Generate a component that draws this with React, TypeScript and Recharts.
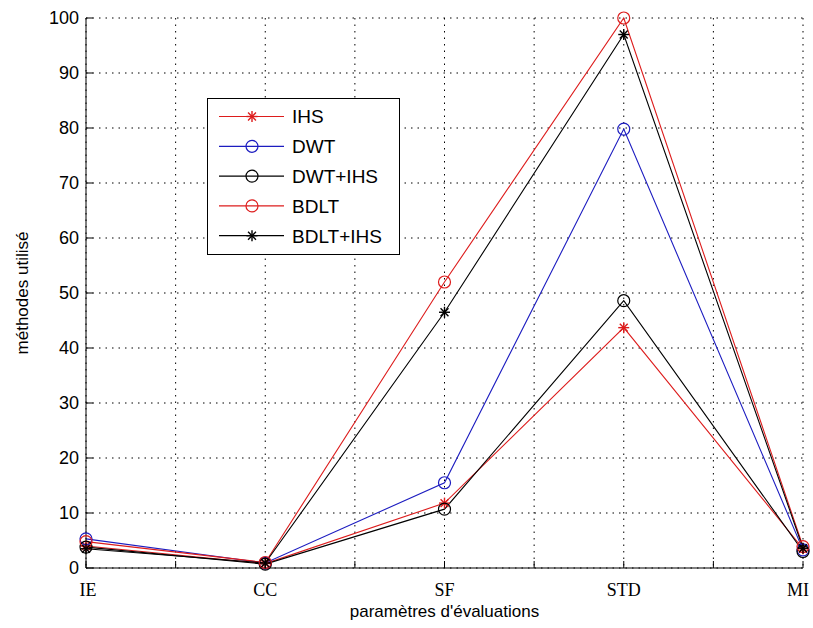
import React from 'react';
import {
  LineChart,
  Line,
  XAxis,
  YAxis,
  CartesianGrid,
  Label,
} from 'recharts';

// categories sit at positions 1..5, grid also at half steps (MATLAB style)
const categories = ['IE', 'CC', 'SF', 'STD', 'MI'];
const xPositions = [1, 2, 3, 4, 5];
const xTicks = [1, 1.5, 2, 2.5, 3, 3.5, 4, 4.5, 5];
const yTicks = [0, 10, 20, 30, 40, 50, 60, 70, 80, 90, 100];

const ihs = [4.0, 0.8, 11.8, 43.7, 3.5];
const dwt = [5.3, 0.9, 15.5, 79.8, 3.3];
const dwtIhs = [3.8, 0.7, 10.7, 48.6, 3.0];
const bdlt = [4.8, 1.0, 52.0, 100.0, 3.9];
const bdltIhs = [3.5, 0.9, 46.5, 97.0, 3.6];

const RED = '#dd1c1c';
const BLUE = '#1c1cc0';
const BLACK = '#000000';

type MarkerKind = 'star' | 'circle';

const series: { key: string; color: string; marker: MarkerKind }[] = [
  { key: 'IHS', color: RED, marker: 'star' },
  { key: 'DWT', color: BLUE, marker: 'circle' },
  { key: 'DWT+IHS', color: BLACK, marker: 'circle' },
  { key: 'BDLT', color: RED, marker: 'circle' },
  { key: 'BDLT+IHS', color: BLACK, marker: 'star' },
];

const data = categories.map((name, i) => ({
  pos: xPositions[i],
  name,
  IHS: ihs[i],
  DWT: dwt[i],
  'DWT+IHS': dwtIhs[i],
  BDLT: bdlt[i],
  'BDLT+IHS': bdltIhs[i],
}));

const sans = '"Liberation Sans", Arial, sans-serif';
const serif = '"Liberation Serif", "Times New Roman", serif';
const TICK = 7;

const Marker = ({ cx, cy, kind, color }: { cx: number; cy: number; kind: MarkerKind; color: string }) => {
  if (kind === 'circle') {
    return <circle cx={cx} cy={cy} r={6} fill="none" stroke={color} strokeWidth={1.2} />;
  }
  const s = 5.5;
  const d = s * 0.72;
  return (
    <g stroke={color} strokeWidth={1.4}>
      <line x1={cx - s} y1={cy} x2={cx + s} y2={cy} />
      <line x1={cx} y1={cy - s} x2={cx} y2={cy + s} />
      <line x1={cx - d} y1={cy - d} x2={cx + d} y2={cy + d} />
      <line x1={cx - d} y1={cy + d} x2={cx + d} y2={cy - d} />
    </g>
  );
};

const BottomTick = (props: any) => {
  const { x, y, payload } = props;
  const idx = xPositions.indexOf(payload.value);
  // last label is nudged in so it stays inside the picture
  const shift = idx === categories.length - 1 ? -5 : idx === 0 ? 2 : 0;
  return (
    <g>
      <line x1={x} y1={y} x2={x} y2={y - TICK} stroke="#000" />
      {idx >= 0 && (
        <text x={x + shift} y={y + 22} dy="0.35em" textAnchor="middle" fontFamily={serif} fontSize={18} fill="#000">
          {categories[idx]}
        </text>
      )}
    </g>
  );
};

const TopTick = (props: any) => {
  const { x, y } = props;
  return <line x1={x} y1={y} x2={x} y2={y + TICK} stroke="#000" />;
};

const LeftTick = (props: any) => {
  const { x, y, payload } = props;
  return (
    <g>
      <line x1={x} y1={y} x2={x + TICK} y2={y} stroke="#000" />
      <text x={x - 7} y={y} dy="0.35em" textAnchor="end" fontFamily={sans} fontSize={18} fill="#000">
        {payload.value}
      </text>
    </g>
  );
};

const RightTick = (props: any) => {
  const { x, y } = props;
  return <line x1={x} y1={y} x2={x - TICK} y2={y} stroke="#000" />;
};

const LegendBox = () => (
  <svg width={193} height={157} style={{ display: 'block' }}>
    <rect x={0.5} y={0.5} width={192} height={156} fill="#fff" stroke="#000" />
    {series.map((s, i) => {
      const cy = 18.5 + i * 29.8;
      return (
        <g key={s.key}>
          <line x1={12} y1={cy} x2={77} y2={cy} stroke={s.color} strokeWidth={1.2} />
          <Marker cx={45} cy={cy} kind={s.marker} color={s.color} />
          <text x={85} y={cy} dy="0.36em" fontFamily={sans} fontSize={19} fill="#000">
            {s.key}
          </text>
        </g>
      );
    })}
  </svg>
);

export default function App() {
  return (
    <div style={{ width: 813, height: 628, background: '#fff', position: 'relative' }}>
      <style>{'body{margin:0}'}</style>
      <LineChart
        width={813}
        height={628}
        data={data}
        margin={{ top: 18, right: 10, bottom: 0, left: 26 }}
      >
        <CartesianGrid
          stroke="#000"
          strokeDasharray="1.5 5"
          fill="none"
        />
        <XAxis
          dataKey="pos"
          type="number"
          domain={[1, 5]}
          ticks={xTicks}
          height={60}
          tickSize={0}
          tickMargin={0}
          tick={<BottomTick />}
          axisLine={{ stroke: '#000' }}
          tickLine={false}
          interval={0}
        >
          <Label
            value="paramètres d'évaluations"
            position="insideBottom"
            offset={11}
            style={{ fontFamily: sans, fontSize: 17, fill: '#000' }}
          />
        </XAxis>
        <XAxis
          xAxisId="top"
          orientation="top"
          dataKey="pos"
          type="number"
          domain={[1, 5]}
          ticks={xTicks}
          height={0}
          tickSize={0}
          tickMargin={0}
          tick={<TopTick />}
          axisLine={{ stroke: '#000' }}
          tickLine={false}
          interval={0}
        />
        <YAxis
          type="number"
          domain={[0, 100]}
          ticks={yTicks}
          width={60}
          tickSize={0}
          tickMargin={0}
          tick={<LeftTick />}
          axisLine={{ stroke: '#000' }}
          tickLine={false}
          interval={0}
        >
          <Label
            content={() => (
              <text
                transform="translate(22,293) rotate(-90)"
                textAnchor="middle"
                dy="0.35em"
                fontFamily={sans}
                fontSize={17}
                fill="#000"
              >
                méthodes utilisé
              </text>
            )}
          />
        </YAxis>
        <YAxis
          yAxisId="right"
          orientation="right"
          type="number"
          domain={[0, 100]}
          ticks={yTicks}
          width={0}
          tickSize={0}
          tickMargin={0}
          tick={<RightTick />}
          axisLine={{ stroke: '#000' }}
          tickLine={false}
          interval={0}
        />
        {series.map((s) => (
          <Line
            key={s.key}
            type="linear"
            dataKey={s.key}
            stroke={s.color}
            strokeWidth={1.1}
            isAnimationActive={false}
            activeDot={false}
            dot={(p: any) => (
              <g key={`${s.key}-${p.index}`}>
                <Marker cx={p.cx} cy={p.cy} kind={s.marker} color={s.color} />
              </g>
            )}
          />
        ))}
      </LineChart>
      <div style={{ position: 'absolute', left: 207, top: 98 }}>
        <LegendBox />
      </div>
    </div>
  );
}
